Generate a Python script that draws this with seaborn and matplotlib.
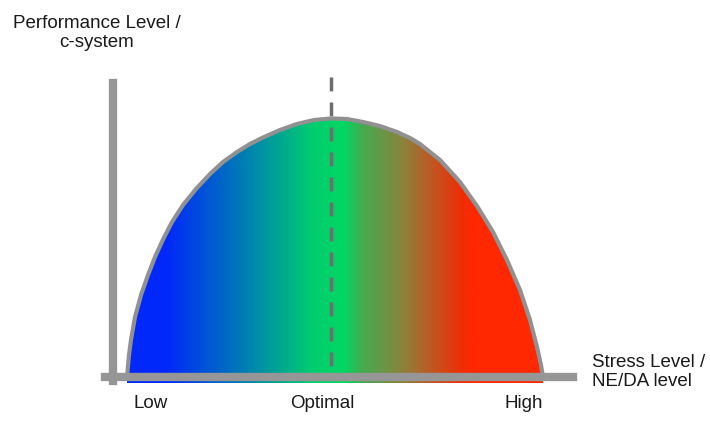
import numpy as np
import matplotlib
matplotlib.use("Agg")
import matplotlib.pyplot as plt
from matplotlib.colors import LinearSegmentedColormap
from matplotlib.patches import Polygon
import seaborn as sns

# curve: stress level (0-100) vs performance (0-100)
stress = [3.04, 3.48, 3.91, 4.78, 6.09, 7.61, 9.13, 10.87, 12.83, 15.22,
          18.04, 21.09, 23.91, 26.96, 29.78, 32.61, 36.30, 40.00, 43.70,
          47.39, 50.87, 54.35, 58.04, 61.74, 64.57, 66.74, 71.09, 75.43,
          79.13, 82.61, 85.65, 88.48, 90.65, 92.17, 93.04, 93.48]
performance = [0.0, 7.48, 12.59, 20.41, 27.89, 34.69, 40.82, 46.77, 52.72,
               58.50, 63.95, 69.05, 73.13, 76.53, 79.25, 81.46, 84.01, 86.05,
               87.41, 87.93, 87.76, 86.73, 85.37, 83.33, 81.29, 79.25, 73.81,
               66.33, 58.16, 49.32, 39.80, 29.59, 19.39, 10.20, 4.08, 0.0]
optimal_level = 47.4

x_ticks = ["Low", "Optimal", "High"]

# gradient stops along the stress axis
grad_pos = [2.6, 11.3, 33.0, 43.3, 50.0, 54.3, 63.0, 70.4, 76.1, 78.3, 94.0]
grad_rgb = [(0, 40, 250), (0, 40, 250), (0, 150, 160), (0, 205, 110),
            (0, 215, 100), (70, 170, 80), (140, 130, 60), (200, 80, 30),
            (240, 45, 5), (255, 40, 0), (255, 40, 0)]

sns.set_theme(style="white")
plt.rcParams['font.family'] = ['Liberation Sans', 'DejaVu Sans']

W, H = 710, 445
fig = plt.figure(figsize=(W / 100, H / 100), dpi=100)
ax = fig.add_axes([0, 0, 1, 1])
ax.set_xlim(-113 / 4.6, (W - 113) / 4.6)
ax.set_ylim((377 - H) / 2.94, 377 / 2.94)
ax.patch.set_alpha(0)

# gradient fill clipped to the area under the curve
span = grad_pos[-1] - grad_pos[0]
cmap = LinearSegmentedColormap.from_list(
    "stress", [((p - grad_pos[0]) / span, tuple(c / 255 for c in rgb))
               for p, rgb in zip(grad_pos, grad_rgb)])
grad = np.linspace(0, 1, 600).reshape(1, -1)
im = ax.imshow(grad, cmap=cmap, aspect="auto", origin="lower",
               extent=[grad_pos[0], grad_pos[-1], -2.2, 100], zorder=0)
shape = Polygon(np.column_stack([stress + stress[::-1],
                                 performance + [-2.2] * len(stress)]),
                closed=True, facecolor="none", edgecolor="none")
ax.add_patch(shape)
im.set_clip_path(shape)

# optimal marker, dashes start at the top
ax.plot([optimal_level, optimal_level], [102, 0], color="#6e6e6e",
        linewidth=2.5, linestyle=(0, (4.0, 3.2)), zorder=2)

# curve outline
sns.lineplot(x=stress, y=performance, sort=False, ax=ax, color="#919191",
             linewidth=3.0, zorder=3, solid_joinstyle="round",
             solid_capstyle="round")

# axes as thick grey bars
for side in ["top", "right"]:
    ax.spines[side].set_visible(False)
ax.spines["left"].set_position(("data", 0))
ax.spines["bottom"].set_position(("data", 0))
ax.spines["left"].set_bounds(-1.5, 100)
ax.spines["bottom"].set_bounds(-1.7, 100)
for side in ["left", "bottom"]:
    ax.spines[side].set_color("#969696")
    ax.spines[side].set_linewidth(6.0)
    ax.spines[side].set_zorder(4)
ax.set_xticks([])
ax.set_yticks([])

fs = 13.5
fig.text(97 / W, 1 - 33 / H, "Performance Level /\nc-system", ha="center",
         va="center", fontsize=fs, linespacing=1.1, color="#1a1a1a")
fig.text(592 / W, 1 - 372 / H, "Stress Level /\nNE/DA level", ha="left",
         va="center", fontsize=fs, linespacing=1.1, color="#1a1a1a")
for label, px in zip(x_ticks, [151, 322, 524]):
    fig.text(px / W, 1 - 403 / H, label, ha="center", va="center",
             fontsize=fs, color="#1a1a1a")

fig.savefig("out.png", dpi=100, facecolor="white")
